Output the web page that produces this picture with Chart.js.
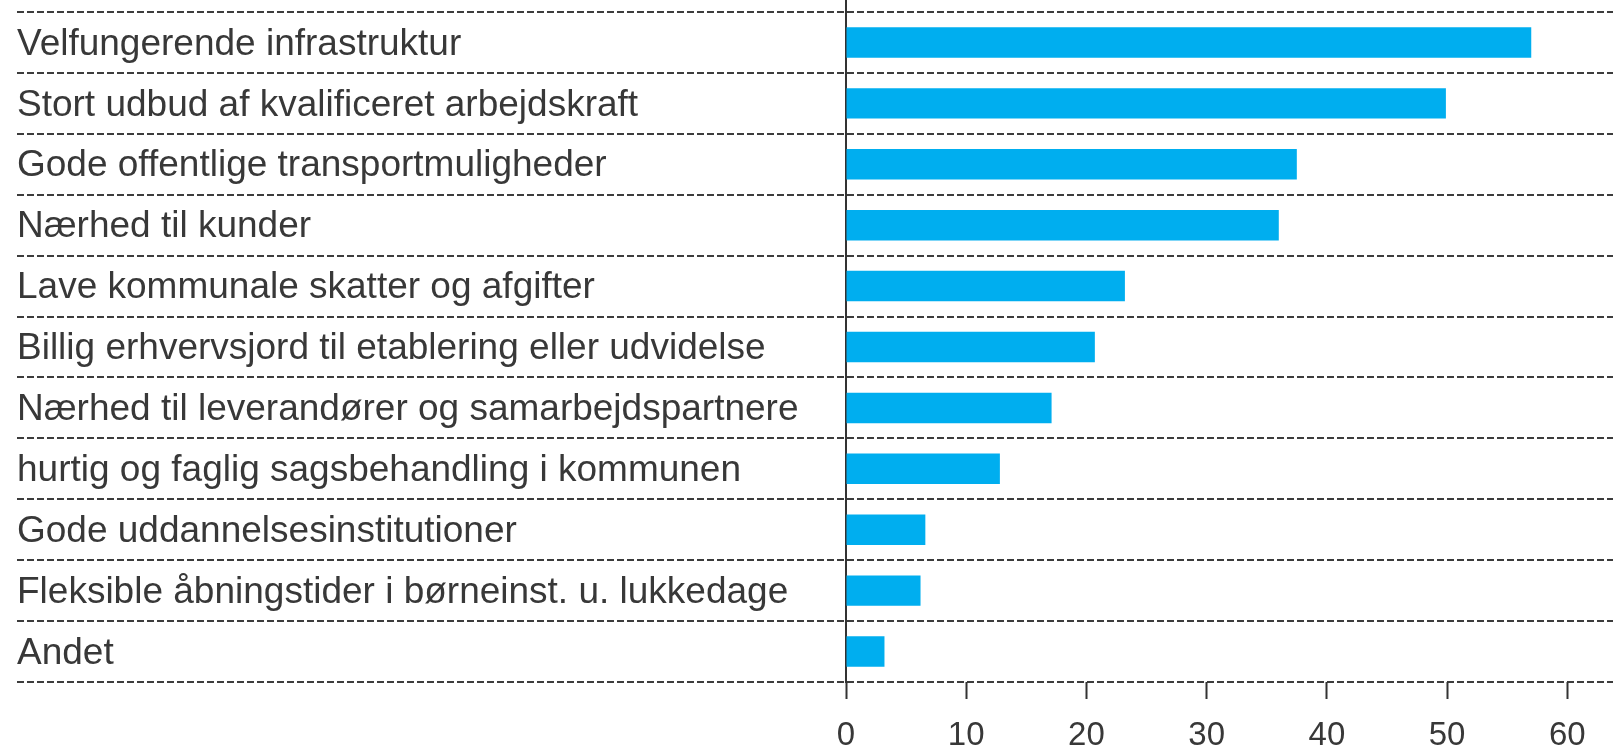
<!DOCTYPE html>
<html>
<head>
<meta charset="utf-8">
<script src="https://cdn.jsdelivr.net/npm/chart.js@4"></script>
<style>
  html, body { margin: 0; padding: 0; background: #fff; }
  #wrap { width: 1613px; height: 746px; position: relative; }
</style>
</head>
<body>
<div id="wrap"><canvas id="c" width="1613" height="746"></canvas></div>
<script>
const categories = [
  "Velfungerende infrastruktur",
  "Stort udbud af kvalificeret arbejdskraft",
  "Gode offentlige transportmuligheder",
  "Nærhed til kunder",
  "Lave kommunale skatter og afgifter",
  "Billig erhvervsjord til etablering eller udvidelse",
  "Nærhed til leverandører og samarbejdspartnere",
  "hurtig og faglig sagsbehandling i kommunen",
  "Gode uddannelsesinstitutioner",
  "Fleksible åbningstider i børneinst. u. lukkedage",
  "Andet"
];
const values = [57.0, 49.9, 37.5, 36.0, 23.2, 20.7, 17.1, 12.8, 6.6, 6.2, 3.2];
const xTicks = [0, 10, 20, 30, 40, 50, 60];
const xMax = 63.8;

const TEXT = '#383838';
const LINE = '#3c3c3c';
const DASH = [7, 3];

const axisExtension = {
  id: 'axisExtension',
  afterDraw(chart) {
    const ctx = chart.ctx;
    const x = chart.scales.x.getPixelForValue(0);
    ctx.save();
    ctx.strokeStyle = '#333';
    ctx.lineWidth = 2;
    ctx.beginPath();
    ctx.moveTo(x, 0);
    ctx.lineTo(x, chart.chartArea.top);
    ctx.stroke();
    ctx.restore();
  }
};

new Chart(document.getElementById('c'), {
  type: 'bar',
  data: {
    labels: categories,
    datasets: [{
      data: values,
      backgroundColor: '#00AEEF',
      borderWidth: 0,
      categoryPercentage: 1,
      barPercentage: 0.5
    }]
  },
  options: {
    indexAxis: 'y',
    responsive: false,
    animation: false,
    devicePixelRatio: 1,
    layout: { padding: { left: 17, top: 12, right: 0, bottom: 0 } },
    plugins: { legend: { display: false }, tooltip: { enabled: false } },
    scales: {
      y: {
        type: 'category',
        offset: true,
        grid: {
          offset: true,
          color: LINE,
          lineWidth: 2,
          drawTicks: true,
          tickLength: 829,
          tickColor: LINE,
          tickWidth: 2,
          tickBorderDash: DASH
        },
        border: { display: true, color: '#333', width: 2, dash: DASH },
        ticks: {
          crossAlign: 'far',
          color: TEXT,
          padding: 0,
          labelOffset: 2,
          font: { family: "'Liberation Sans', Arial, sans-serif", size: 37 }
        },
        afterFit(scale) {
          scale.width = 829;
          scale.paddingTop = 0;
          scale.paddingBottom = 0;
        }
      },
      x: {
        type: 'linear',
        min: 0,
        max: xMax,
        afterBuildTicks(scale) { scale.ticks = xTicks.map(v => ({ value: v })); },
        grid: {
          drawOnChartArea: false,
          drawTicks: true,
          tickLength: 17,
          tickColor: '#333',
          tickWidth: 2
        },
        border: { display: false },
        ticks: {
          color: TEXT,
          padding: 17,
          maxRotation: 0,
          font: { family: "'Liberation Sans Narrow', 'Liberation Sans', Arial, sans-serif", size: 33 }
        },
        afterFit(scale) { scale.height = 64; scale.paddingLeft = 0; scale.paddingRight = 0; }
      }
    }
  },
  plugins: [axisExtension]
});
</script>
</body>
</html>
